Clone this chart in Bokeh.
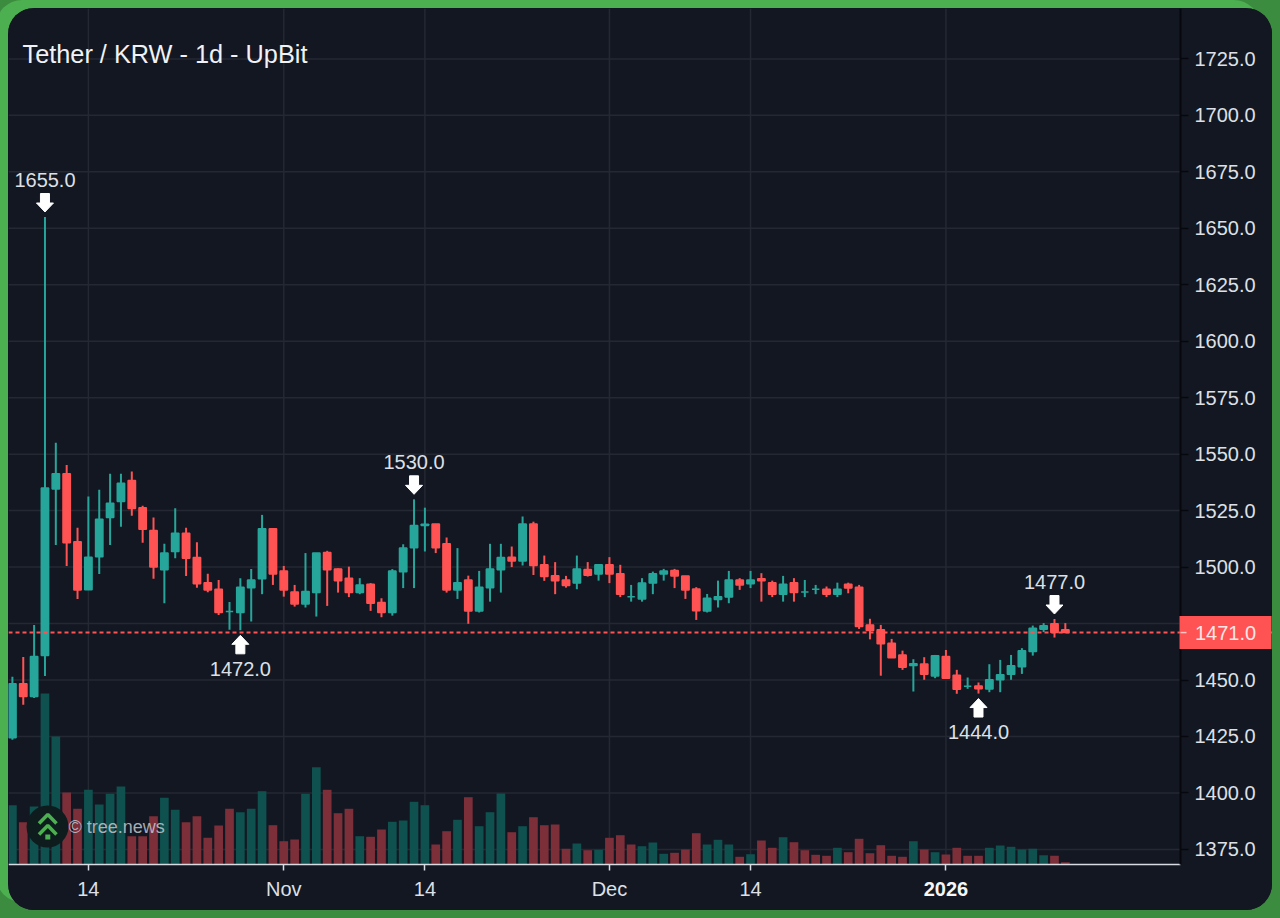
from bokeh.core.properties import value
from bokeh.embed import file_html
from bokeh.models import ColumnDataSource, FixedTicker, Label, PrintfTickFormatter, Range1d, Span
from bokeh.plotting import figure
from bokeh.resources import INLINE

TITLE = "Tether / KRW - 1d - UpBit"
WATERMARK = "© tree.news"

# One candle per day, 7 Oct 2025 to 12 Jan 2026
opens = [
    1424.4, 1448.3, 1442.7, 1460.8, 1534.6, 1541.3, 1511.2, 1490, 1504.6, 1521.9,
    1529, 1538.3, 1526.3, 1516.2, 1498.8, 1506.9, 1515, 1504.2, 1493.1, 1490.2,
    1480.3, 1479.9, 1490.9, 1494.8, 1517, 1498.3, 1489, 1483.7, 1488.7, 1506.4,
    1499.2, 1495.1, 1488.7, 1492.4, 1484.3, 1479.9, 1497.9, 1508.6, 1518.4, 1519.1,
    1510.3, 1489.9, 1494.3, 1480.6, 1490.9, 1498.8, 1504.4, 1502.7, 1519.1, 1501,
    1496.2, 1494.3, 1492.9, 1498.9, 1496.9, 1501, 1497, 1486.9, 1485.9, 1492.9,
    1496.9, 1498.5, 1496.1, 1490.3, 1480.6, 1485.6, 1486.7, 1494.3, 1492.6, 1494.8,
    1493.1, 1488, 1493.1, 1489, 1490.2, 1490.2, 1488, 1492.4, 1491.1, 1474.4,
    1472.2, 1466.3, 1461.1, 1456.4, 1457.1, 1451.8, 1460.4, 1452.1, 1447.2, 1447.4,
    1446, 1450.1, 1452.6, 1455.9, 1462.6, 1472.5, 1474.9, 1472.2,
]
closes = [
    1448.3, 1442.7, 1460.4, 1535, 1541.3, 1510.8, 1489.9, 1504.4, 1521.2, 1528.3,
    1537.1, 1525.9, 1516.8, 1500, 1506.2, 1515, 1503.9, 1492.6, 1489.9, 1479.9,
    1480.3, 1491.1, 1494.3, 1517, 1496.9, 1489.9, 1483.7, 1489.2, 1506.2, 1498.8,
    1493.9, 1488.7, 1492.1, 1484, 1479.9, 1498.3, 1508.4, 1518.4, 1519, 1508.6,
    1489.9, 1493.1, 1480.6, 1491.1, 1499.2, 1504.2, 1502.7, 1519.1, 1500.7, 1495.8,
    1494, 1491.8, 1499.1, 1496.4, 1501, 1496.9, 1488, 1486.9, 1492.9, 1497,
    1498.3, 1496.1, 1489.9, 1480.7, 1486.2, 1486.9, 1494.3, 1492.1, 1494.3, 1493.9,
    1488, 1492.4, 1488.7, 1489, 1490.2, 1488, 1490.2, 1490.7, 1473.7, 1471.9,
    1466, 1459.9, 1455.7, 1457.2, 1452.6, 1460.7, 1450.8, 1445.9, 1447.2, 1446.1,
    1450.1, 1452.3, 1456.3, 1463, 1472.9, 1474, 1471, 1471,
]
highs = [
    1451.4, 1460.2, 1474.4, 1655, 1555, 1545.2, 1517.4, 1531.2, 1534.2, 1541.3,
    1541.3, 1542.3, 1527.1, 1522, 1510.3, 1526, 1517.4, 1511, 1497, 1494.3,
    1484.5, 1495.1, 1499.1, 1523.1, 1517, 1500.5, 1492.1, 1506.2, 1506.2, 1507.2,
    1499.4, 1500.2, 1495.1, 1492.9, 1486.2, 1499.1, 1510.1, 1530, 1526.3, 1519.1,
    1513.1, 1508.4, 1496.2, 1498.3, 1510.3, 1510.3, 1509.1, 1522.4, 1520.1, 1505.1,
    1502.2, 1496.1, 1505.1, 1502.2, 1501, 1504.4, 1501, 1492.1, 1495.1, 1498,
    1499.2, 1499.2, 1496.1, 1491.1, 1488.1, 1494, 1498.3, 1495.1, 1498.3, 1497.3,
    1494, 1496.1, 1495.1, 1494.3, 1492.1, 1491.4, 1493.1, 1493.1, 1492.1, 1477.1,
    1474.4, 1468.2, 1463, 1459.2, 1460.1, 1461.1, 1463.3, 1454.5, 1451.1, 1448.9,
    1457, 1458.9, 1461.1, 1464.1, 1474.1, 1475.2, 1477, 1475.2,
]
lows = [
    1423.5, 1439, 1442, 1451.8, 1509.8, 1500.5, 1485.9, 1490, 1496.9, 1509.8,
    1517.9, 1522.7, 1510.8, 1494.8, 1484, 1503.9, 1496.1, 1490.9, 1488.9, 1478.8,
    1472.2, 1472, 1475.9, 1488, 1492.1, 1486.9, 1482.5, 1482.1, 1478.1, 1482.8,
    1488.7, 1486.7, 1488, 1480.6, 1477.8, 1478.5, 1490.7, 1490.7, 1506.9, 1506.2,
    1488.7, 1485.9, 1474.9, 1479.9, 1484.7, 1488.7, 1500, 1500.7, 1496.5, 1493.9,
    1488, 1490.9, 1490.2, 1495.8, 1494, 1492.9, 1486.7, 1484.7, 1484.7, 1488,
    1494, 1490.7, 1485.9, 1476.6, 1479.9, 1482.1, 1484, 1489.9, 1490.7, 1484.7,
    1486.7, 1484.7, 1484.7, 1486.7, 1488, 1486.7, 1486.7, 1488.4, 1472.6, 1468,
    1451.9, 1459.9, 1454.5, 1444.9, 1450.1, 1450.8, 1450.8, 1443.9, 1446.1, 1444,
    1444.6, 1444.6, 1450.1, 1452.7, 1460.8, 1471.2, 1468.8, 1471,
]
volumes = [
    59.3, 42.3, 58, 171, 128, 72, 55.7, 74.7, 60, 70.7,
    78, 28.3, 28.3, 48.3, 66.7, 54.7, 42.3, 48.3, 26.7, 39,
    55.7, 52.3, 55.7, 73.3, 39.3, 23.3, 25, 70.7, 97.3, 74.7,
    51.3, 55.7, 28.3, 27.7, 35, 42.7, 44, 62.7, 59.3, 20,
    33.3, 44.7, 67.3, 38.3, 52.3, 71, 32.3, 38.3, 47.3, 39.3,
    40, 15.7, 21, 14.3, 14.7, 26.7, 29.3, 20, 18.3, 22,
    10.7, 11.7, 15, 31.3, 20, 24.7, 20, 7.7, 10.3, 24,
    16.7, 27.3, 22.3, 14.3, 9.7, 8.7, 16.7, 12.3, 25.7, 11.3,
    19.3, 8.7, 7.7, 23.3, 15, 12.3, 10, 16.7, 8.7, 8.7,
    16.7, 19, 17.7, 15, 15.7, 9.3, 8.7, 2.3,
]

# x ticks, as day numbers counted from the first candle
x_ticks = [7, 25, 38, 55, 68, 86]
x_tick_labels = ["14", "Nov", "14", "Dec", "14", " "]
year_tick = 86
year_label = "2026"
y_ticks = [1375, 1400, 1425, 1450, 1475, 1500, 1525, 1550, 1575, 1600, 1625, 1650, 1675, 1700, 1725]

# Marked extremes
peak_days = [3, 37, 96]
peak_prices = [1655.0, 1530.0, 1477.0]
trough_days = [21, 89]
trough_prices = [1472.0, 1444.0]
last_price = 1471.0

# Layout and colours: the frame fills the whole card, axes are pinned inside it
W, H = 1264, 902
CARD_L, CARD_R, CARD_T, CARD_B = 8, 1272, 8, 910  # page pixels
CHART_R, CHART_B = 1180, 864
PX_PER_DAY = 10.855
FIRST_CANDLE_PX = 11.9
Y_1725_PX, Y_1375_PX = 58.4, 848.9
PX_PER_PRICE = (Y_1375_PX - Y_1725_PX) / 350.0
BG = "#131722"
GRID = "#242832"
UP, DOWN = "#26A69A", "#FF5252"
VOL_UP, VOL_DOWN = "#0E514F", "#7D2F39"
TEXT = "#DDE0E6"
FONT = "Liberation Sans"


def xd(px):
    return (px - FIRST_CANDLE_PX) / PX_PER_DAY


def yd(px):
    return 1725.0 - (px - Y_1725_PX) / PX_PER_PRICE


days = list(range(len(opens)))
up = [c >= o for o, c in zip(opens, closes)]
source = ColumnDataSource(dict(
    day=days, o=opens, c=closes, h=highs, l=lows, v=volumes,
    body_top=[max(o, c) for o, c in zip(opens, closes)],
    body_bottom=[min(o, c) for o, c in zip(opens, closes)],
    candle_color=[UP if u else DOWN for u in up],
    volume_color=[VOL_UP if c > o else VOL_DOWN for o, c in zip(opens, closes)],
))

p = figure(
    width=W, height=H, output_backend="svg", toolbar_location=None,
    x_range=Range1d(xd(CARD_L), xd(CARD_R)), y_range=Range1d(yd(CARD_B), yd(CARD_T)),
    x_axis_location="below", y_axis_location="right",
    min_border_left=0, min_border_top=0, min_border_right=0, min_border_bottom=0,
    background_fill_color=BG, border_fill_color=BG, outline_line_color=None,
    styles={
        "position": "absolute",
        "left": "8px",
        "top": "8px",
        "background": BG,
        "border-radius": "26px",
        "overflow": "hidden",
        "box-shadow": "-12px -8px 0 0 #4CAF50, 0 0 0 40px #3C8C40",
    },
)

# Volume on its own scale, its zero on the chart's bottom edge
p.extra_y_ranges = {"volume": Range1d(CHART_B - CARD_B, CHART_B - CARD_T)}

# Axes
xa = p.xaxis[0]
xa.fixed_location = yd(CHART_B)
xa.bounds = (xd(CARD_L), xd(CHART_R))
xa.ticker = FixedTicker(ticks=x_ticks)
xa.major_label_overrides = dict(zip(x_ticks, x_tick_labels))
xa.axis_line_color = "#D8DBE2"
xa.axis_line_width = 1.5
xa.major_tick_line_color = "#D8DBE2"
xa.major_tick_line_width = 1.5
xa.major_tick_in = 0
xa.major_tick_out = 6
xa.minor_tick_line_color = None
xa.major_label_text_color = TEXT
xa.major_label_text_font = FONT
xa.major_label_text_font_size = "20px"
xa.major_label_standoff = 7

ya = p.yaxis[0]
ya.fixed_location = xd(CHART_R)
ya.bounds = (yd(CHART_B), yd(CARD_T))
ya.ticker = FixedTicker(ticks=y_ticks)
ya.formatter = PrintfTickFormatter(format="%.1f")
ya.axis_line_color = "#06080D"
ya.axis_line_width = 2
ya.major_tick_line_color = "#06080D"
ya.major_tick_line_width = 1.5
ya.major_tick_in = 0
ya.major_tick_out = 8
ya.minor_tick_line_color = None
ya.major_label_text_color = TEXT
ya.major_label_text_font = FONT
ya.major_label_text_font_size = "20px"
ya.major_label_standoff = 6

# Grid, stopping at the axes
p.xgrid.grid_line_color = None
p.ygrid.grid_line_color = None
p.segment(x_ticks, [yd(CHART_B)] * len(x_ticks), x_ticks, [yd(CARD_T)] * len(x_ticks),
          line_color=GRID, line_width=1.5, level="underlay")
p.segment([xd(CARD_L)] * len(y_ticks), y_ticks, [xd(CHART_R)] * len(y_ticks), y_ticks,
          line_color=GRID, line_width=1.5, level="underlay")

# Volume
p.vbar(x="day", top="v", bottom=0, width=0.8, source=source, fill_color="volume_color",
       line_color=None, y_range_name="volume")

# Watermark
p.scatter([xd(47)], [yd(826)], marker="circle", size=42, fill_color="#0E1C1E", line_color=None)
p.multi_line(
    [[xd(38.5), xd(47.3), xd(56)], [xd(38.5), xd(47.3), xd(56)]],
    [[yd(823), yd(814), yd(823)], [yd(834), yd(825), yd(834)]],
    line_color="#4CAF50", line_width=3.5,
)
p.rect([xd(47.3)], [yd(836.5)], width=5, height=5, width_units="screen", height_units="screen",
       fill_color="#4CAF50", line_color=None)
p.add_layout(Label(x=xd(68), y=yd(826.5), text=WATERMARK, text_color="#C4C8D0", text_alpha=0.85,
                   text_font=FONT, text_font_size="18px", text_baseline="middle"))

# Candles
p.segment(x0="day", x1="day", y0="l", y1="h", source=source, line_color="candle_color", line_width=2)
p.vbar(x="day", top="body_top", bottom="body_bottom", width=0.68, source=source,
       fill_color="candle_color", line_color="candle_color", line_width=1.5)

# Last price line
p.add_layout(Span(location=last_price, dimension="width", line_color=DOWN, line_width=2,
                  line_dash=[4, 3]))


# Arrows: block arrows pointing at each marked extreme, sized in pixels
def arrow(day, price, direction):
    """direction=+1 sits above the price and points down, -1 sits below and points up."""
    dx_head, dx_shaft = 8.5 / PX_PER_DAY, 4.5 / PX_PER_DAY
    tip = price + direction * 5 / PX_PER_PRICE
    neck = tip + direction * 9 / PX_PER_PRICE
    tail = neck + direction * 9.5 / PX_PER_PRICE
    xs = [day, day - dx_head, day - dx_shaft, day - dx_shaft, day + dx_shaft, day + dx_shaft, day + dx_head]
    ys = [tip, neck, neck, tail, tail, neck, neck]
    return xs, ys


shapes = [arrow(d, v, 1) for d, v in zip(peak_days, peak_prices)] + \
         [arrow(d, v, -1) for d, v in zip(trough_days, trough_prices)]
p.patches([s[0] for s in shapes], [s[1] for s in shapes], fill_color="#FFFFFF", line_color="#FFFFFF",
          line_width=1, line_join="round")
p.text(peak_days, peak_prices, text=[f"{v:.1f}" for v in peak_prices], y_offset=-37,
       text_align="center", text_baseline="middle", text_color=TEXT, text_font=value(FONT),
       text_font_size="20px")
p.text(trough_days, trough_prices, text=[f"{v:.1f}" for v in trough_prices], y_offset=38.6,
       text_align="center", text_baseline="middle", text_color=TEXT, text_font=value(FONT),
       text_font_size="20px")

# Title and bold year label
p.add_layout(Label(x=xd(22), y=yd(53.5), text=TITLE, text_color="#F0F2F5", text_font=FONT,
                   text_font_size="25.3px", text_baseline="middle"))
p.text([year_tick], [yd(888.5)], text=[year_label], text_align="center", text_baseline="middle",
       text_color="#F5F6F8", text_font=value(FONT), text_font_size="20px", text_font_style="bold")

# Last price tag, over the axis labels
TAG = 16.5 / PX_PER_PRICE
p.quad(left=[xd(1179)], right=[xd(1271)], top=[last_price + TAG], bottom=[last_price - TAG],
       fill_color=DOWN, line_color=None, level="overlay")
p.segment([xd(1180)], [last_price], [xd(1186)], [last_price], line_color="#FFC4C4", line_width=1.5,
          level="overlay")
p.text([xd(1194.5)], [last_price], text=[f"{last_price:.1f}"], text_align="left", text_baseline="middle",
       text_color="#FFE6E6", text_font=value(FONT), text_font_size="20px", level="overlay")

open("out.html", "w").write(file_html(p, INLINE))
